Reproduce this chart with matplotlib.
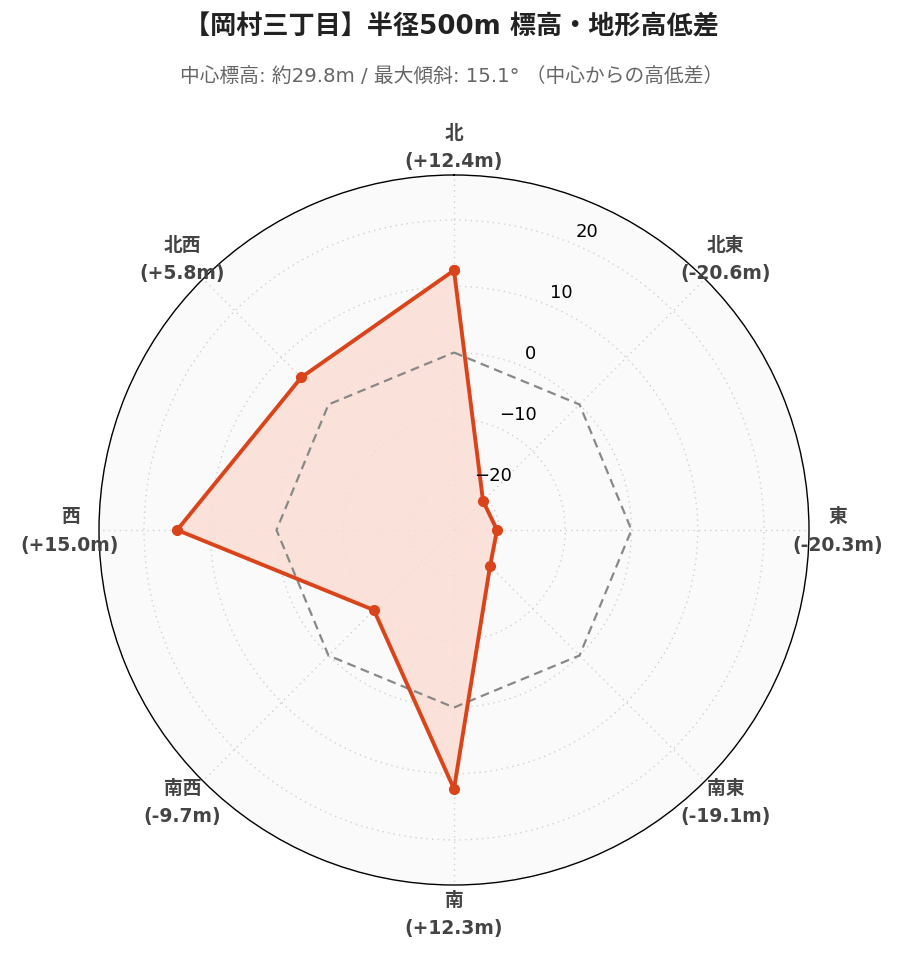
import numpy as np
import matplotlib
matplotlib.use("Agg")
import matplotlib.pyplot as plt
import matplotlib.transforms as mtrans

plt.rcParams['font.family'] = ['DejaVu Sans', 'Noto Sans CJK JP']

directions = ['北', '北東', '東', '南東', '南', '南西', '西', '北西']
diffs = [12.4, -20.6, -20.3, -19.1, 12.3, -9.7, 15.0, 5.8]
zero_ref = [0, 0, 0, 0, 0, 0, 0, 0]
rticks = [-20, -10, 0, 10, 20]
rlim = (-26.8, 26.8)

title = '【岡村三丁目】半径500m 標高・地形高低差'
subtitle = '中心標高: 約29.8m / 最大傾斜: 15.1° （中心からの高低差）'

fig = plt.figure(figsize=(9.03, 9.62), dpi=100)
ax = fig.add_axes([99/903, 76/962, 710/903, 710/962], projection='polar')
ax.set_theta_zero_location('N')
ax.set_theta_direction(-1)
ax.set_facecolor('#FAFAFA')

n = len(directions)
theta = np.deg2rad(np.arange(n) * 360.0 / n)
tc = np.concatenate([theta, theta[:1]])

ax.set_ylim(*rlim)
ax.set_yticks(rticks)
ax.set_yticklabels([])
ax.set_xticks(theta)
ax.set_xticklabels([])
ax.grid(True, color='#D0D0D0', linestyle=(0, (1, 3)), linewidth=1.0)
ax.spines['polar'].set_color('black')
ax.spines['polar'].set_linewidth(1.0)

ax.plot(tc, zero_ref + zero_ref[:1], color='#888888', linestyle=(0, (4, 2.5)), linewidth=1.6, zorder=3)
d = np.array(diffs + diffs[:1])
ax.fill(tc, d, color='#FBDDD4', alpha=0.85, zorder=2)
ax.plot(tc, d, color='#D9441A', linewidth=2.8, marker='o', markersize=7, zorder=4)

# radial tick labels
off = mtrans.offset_copy(ax.transData, fig=fig, x=3, y=4, units='dots')
for rv in rticks:
    lab = str(rv).replace('-', '\u2212')
    ax.text(np.deg2rad(22.5), rv, lab, transform=off, ha='left', va='bottom',
            fontsize=13, color='black', zorder=5)

# direction labels
rlab = rlim[0] + 384 / 355 * (rlim[1] - rlim[0])
for t, name, v in zip(theta, directions, diffs):
    ax.text(t, rlab, f'{name}\n({v:+.1f}m)', ha='center', va='center',
            fontsize=13.5, fontweight='bold', color='#444444',
            linespacing=1.6, clip_on=False)

fig.text(0.5, 1 - 27/962, title, ha='center', va='center', fontsize=18.8, fontweight='bold', color='#222222')
fig.text(0.5, 1 - 76/962, subtitle, ha='center', va='center', fontsize=14.2, color='#666666')

fig.savefig('out.png', dpi=100, facecolor='white')
